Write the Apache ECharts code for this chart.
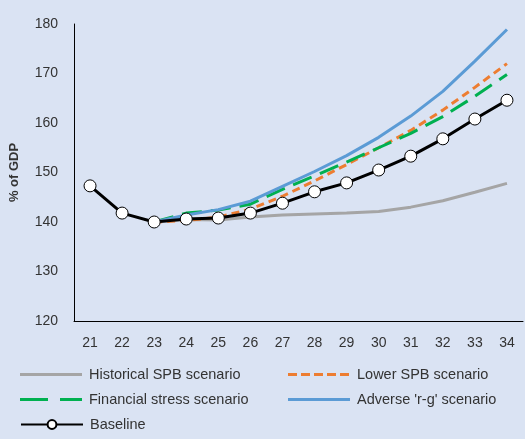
<!DOCTYPE html>
<html><head><meta charset="utf-8">
<script src="https://cdn.jsdelivr.net/npm/echarts@6/dist/echarts.min.js"></script>
<style>html,body{margin:0;padding:0;background:#dae3f3;}#c{width:525px;height:439px;}</style>
</head><body><div id="c"></div>
<script>
const categories = ['21','22','23','24','25','26','27','28','29','30','31','32','33','34'];
const historical = [null,null,140.0,140.5,140.4,141.0,141.4,141.6,141.8,142.1,143.0,144.3,146.0,147.8];
const lowerSPB   = [null,null,140.0,140.3,141.0,142.6,145.2,148.3,151.6,155.0,158.5,162.6,167.2,172.0];
const finStress  = [null,null,140.0,141.8,142.4,143.6,146.6,149.3,152.1,155.0,157.9,161.3,165.4,169.8];
const adverseRG  = [null,null,140.0,141.4,142.5,144.2,147.2,150.2,153.4,157.1,161.4,166.4,172.5,178.9];
const baseline   = [147.3,141.8,140.0,140.6,140.8,141.8,143.8,146.1,147.9,150.5,153.3,156.8,160.8,164.6];
const yTicks = {min:120, max:180, interval:10};

const font = "'Liberation Sans', Arial, sans-serif";
const txt = '#333333';
const corners = 'M0,0h0.01v0.01h-0.01z M61.99,13.99h0.01v0.01h-0.01z ';
const icons = {
  solid: 'path://' + corners + 'M0,5.5h62v3h-62z',
  short: 'path://' + corners + 'M0,5.5h9v3h-9z M13,5.5h9v3h-9z M26,5.5h9v3h-9z M39,5.5h9v3h-9z M52,5.5h9v3h-9z',
  long:  'path://' + corners + 'M0,5.5h28v3h-28z M40,5.5h22v3h-22z'
};
const chart = echarts.init(document.getElementById('c'), null, {renderer:'canvas'});
function leg(name, left, top, icon, h){
  const d = icon ? {name:name, icon:icon} : {name:name};
  return {data:[d], left:left, top:top, itemWidth:62, itemHeight:h || 14, itemGap:0,
    textStyle:{fontFamily:font, fontSize:14.5, color:txt, padding:[0,0,0,2]}, padding:0};
}
chart.setOption({
  backgroundColor:'#dae3f3',
  animation:false,
  grid:{left:73, right:2, top:24, bottom:118},
  legend:[
    leg('Historical SPB scenario', 20, 367, icons.solid),
    leg('Lower SPB scenario', 288, 367, icons.short),
    leg('Financial stress scenario', 20, 392, icons.long),
    leg("Adverse 'r-g' scenario", 288, 392, icons.solid),
    leg('Baseline', 20, 417, null, 11)
  ],
  xAxis:{type:'category', data:categories, boundaryGap:true,
    axisLine:{show:true, lineStyle:{color:'#000', width:1}}, axisTick:{show:false},
    axisLabel:{fontFamily:font, fontSize:14, color:txt, margin:15}},
  yAxis:{type:'value', min:yTicks.min, max:yTicks.max, interval:yTicks.interval,
    name:'% of GDP', nameLocation:'middle', nameRotate:90, nameGap:53,
    nameTextStyle:{fontFamily:font, fontSize:13, color:txt, fontWeight:'bold'},
    axisLine:{show:true, lineStyle:{color:'#000', width:1}}, axisTick:{show:false},
    splitLine:{show:false},
    axisLabel:{fontFamily:font, fontSize:14, color:txt, margin:16}},
  series:[
    {name:'Historical SPB scenario', type:'line', data:historical, symbol:'none',
      lineStyle:{color:'#a5a5a5', width:3}, itemStyle:{color:'#a5a5a5'}},
    {name:'Lower SPB scenario', type:'line', data:lowerSPB, symbol:'none',
      lineStyle:{color:'#ed7d31', width:3, type:[8,5]}, itemStyle:{color:'#ed7d31'}},
    {name:'Financial stress scenario', type:'line', data:finStress, symbol:'none',
      lineStyle:{color:'#00b050', width:3, type:[20,9]}, itemStyle:{color:'#00b050'}},
    {name:"Adverse 'r-g' scenario", type:'line', data:adverseRG, symbol:'none',
      lineStyle:{color:'#5b9bd5', width:3}, itemStyle:{color:'#5b9bd5'}},
    {name:'Baseline', type:'line', data:baseline, symbol:'circle', symbolSize:12,
      lineStyle:{color:'#000', width:3}, itemStyle:{color:'#fff', borderColor:'#000', borderWidth:1}}
  ]
});
</script></body></html>
